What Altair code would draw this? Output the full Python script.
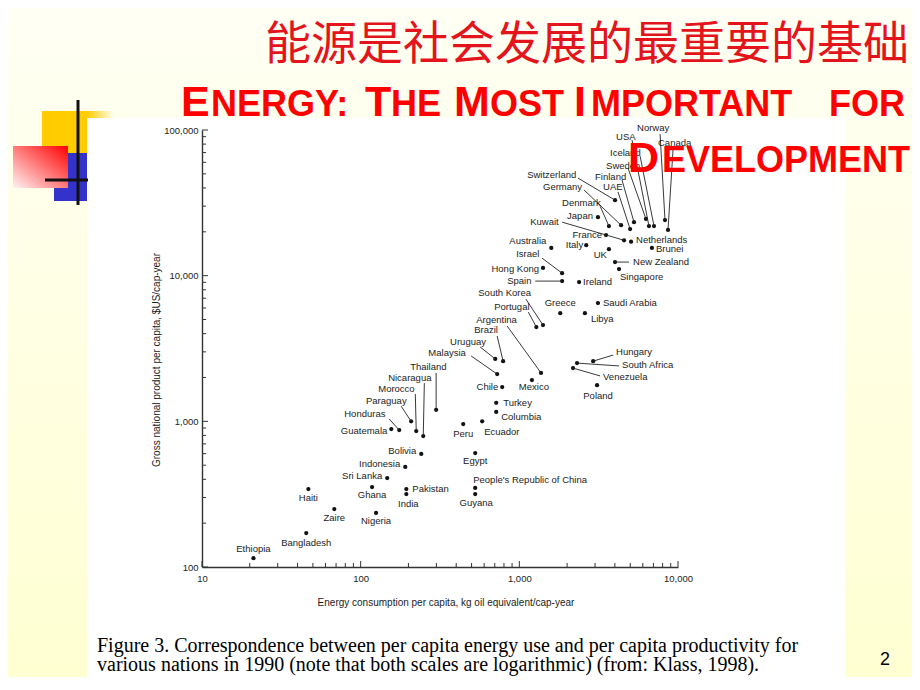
import altair as alt
import pandas as pd

# ---------------- data ----------------
countries = ["Canada", "Norway", "USA", "Iceland", "Sweden", "Finland", "UAE", "Germany",
             "Switzerland", "Denmark", "Japan", "Kuwait", "Netherlands", "France", "Brunei",
             "Australia", "Italy", "UK", "New Zealand", "Singapore", "Israel", "Hong Kong",
             "Spain", "Ireland", "Saudi Arabia", "Greece", "Libya", "Portugal", "South Korea",
             "Argentina", "Brazil", "Uruguay", "Malaysia", "Chile", "Mexico", "Hungary",
             "South Africa", "Venezuela", "Poland", "Turkey", "Columbia", "Ecuador", "Peru",
             "Thailand", "Nicaragua", "Morocco", "Paraguay", "Honduras", "Guatemala", "Bolivia",
             "Egypt", "Indonesia", "Sri Lanka", "Haiti", "Ghana", "Pakistan", "India",
             "People's Republic of China", "Guyana", "Zaire", "Nigeria", "Bangladesh", "Ethiopia"]

energy = [8650, 8280, 6560, 7060, 6280, 5280, 4990, 4380, 4010, 3670, 3130, 4570, 5060, 3520,
          6850, 1590, 2640, 3670, 4010, 4250, 1860, 1410, 1860, 2380, 3130, 1810, 2590, 1280,
          1410, 1370, 790, 705, 725, 780, 1200, 2920, 2310, 2180, 3090, 715, 715, 583, 443,
          299, 248, 224, 208, 175, 156, 241, 527, 191, 147, 46.8, 118, 194, 194, 527, 527,
          68.2, 125, 45.4, 21.1]

gnp = [20600, 24100, 21900, 21900, 24500, 23300, 20900, 22200, 33000, 21900, 25200, 17500,
       17100, 19000, 15500, 15500, 16200, 15200, 12400, 11100, 10400, 11300, 9180, 9040, 6490,
       5530, 5530, 4440, 4580, 2150, 2590, 2680, 2110, 1720, 1920, 2590, 2510, 2320, 1770,
       1340, 1160, 1000, 957, 1200, 793, 858, 1000, 871, 885, 597, 605, 486, 408, 343, 354,
       343, 317, 349, 317, 250, 235, 171, 115]

# labels joined to their points by leader lines (label anchor and line end, data units)
lead_names = ["Norway", "USA", "Canada", "Iceland", "Sweden", "Finland", "UAE", "Switzerland",
              "Germany", "Denmark", "Kuwait", "Israel", "Spain", "South Korea", "Portugal",
              "Argentina", "Brazil", "Uruguay", "Malaysia", "Thailand", "Nicaragua", "Morocco",
              "Paraguay", "Honduras", "Hungary", "South Africa", "Venezuela", "New Zealand"]
lead_tx = [5520, 4070, 7480, 3730, 3520, 3000, 3370, 1120, 1410, 1860, 1170, 955, 838, 551,
           694, 535, 519, 366, 267, 205, 149, 129, 108, 78.8, 4070, 4440, 3370, 5210]
lead_ty = [103000, 89400, 81300, 69400, 56500, 47500, 40500, 49000, 40500, 31500, 23300,
           14100, 9180, 7600, 6090, 4960, 4240, 3500, 2940, 2360, 1980, 1670, 1380, 1120,
           2990, 2430, 2010, 12400]
lead_ex = [7710, 5130, 9310, 5770, 4840, 4440, 4190, 2340, 2560, 3230, 1860, 1390, 1260, 1100,
           1140, 838, 725, 566, 497, 299, 252, 221, 180, 151, 3900, 4250, 3230, 4910]
lead_ey = [93700, 85300, 73900, 66200, 54800, 45300, 37500, 46800, 38700, 30000, 23300, 13200,
           9180, 6900, 5620, 4510, 3850, 3240, 2810, 2150, 1830, 1540, 1270, 1040, 2850, 2400,
           2050, 12400]

# axis ticks
x_major = [10, 100, 1000, 10000]
y_major = [100, 1000, 10000, 100000]
x_minor = [20, 30, 40, 50, 60, 70, 80, 90, 200, 300, 400, 500, 600, 700, 800, 900,
           2000, 3000, 4000, 5000, 6000, 7000, 8000, 9000]
y_minor = [200, 300, 400, 500, 600, 700, 800, 900, 2000, 3000, 4000, 5000, 6000, 7000, 8000,
           9000, 20000, 30000, 40000, 50000, 60000, 70000, 80000, 90000]

# ---------------- styles (label placement next to dot: align, dx, dy in px) ----------------
direct_style = {
    "Japan": ("right", -5, -1), "France": ("right", -4, 0), "Netherlands": ("left", 5, -2),
    "Brunei": ("left", 4, 1), "Australia": ("right", -5, -7), "Italy": ("right", -3, 0),
    "UK": ("right", -2, 6), "Hong Kong": ("right", -4, 1), "Singapore": ("left", 1, 8),
    "Ireland": ("left", 4, 0), "Saudi Arabia": ("left", 5, 0), "Greece": ("center", 0, -10),
    "Libya": ("left", 6, 6), "Chile": ("right", -4, 0), "Mexico": ("center", 2, 7),
    "Poland": ("center", 1, 11), "Turkey": ("left", 7, 0), "Columbia": ("left", 5, 5),
    "Ecuador": ("left", 2, 11), "Peru": ("center", 0, 10), "Guatemala": ("right", -4, 2),
    "Egypt": ("center", 0, 8), "Bolivia": ("right", -5, -3), "Indonesia": ("right", -5, -3),
    "Sri Lanka": ("right", -5, -2), "People's Republic of China": ("left", -2, -8),
    "Pakistan": ("left", 6, 0), "India": ("center", 2, 10), "Guyana": ("center", 1, 9),
    "Haiti": ("center", 0, 9), "Ghana": ("center", 0, 8), "Zaire": ("center", 0, 9),
    "Nigeria": ("center", 0, 8), "Bangladesh": ("center", 0, 10), "Ethiopia": ("center", 0, -9),
}

SANS = "Liberation Sans, Arial, Helvetica, sans-serif"
SERIF = "Liberation Serif, Times New Roman, serif"
INK = "#1c1c1c"
W, H = 476, 437

pts = pd.DataFrame({"name": countries, "energy": energy, "gnp": gnp})
lead = pd.DataFrame({"name": lead_names, "tx": lead_tx, "ty": lead_ty,
                     "ex": lead_ex, "ey": lead_ey}).merge(pts, on="name")

xs = alt.Scale(type="log", domain=[10, 10000], nice=False)
ys = alt.Scale(type="log", domain=[100, 100000], nice=False)
xa = alt.Axis(values=x_major, format=",", title=None, grid=False, ticks=False, labelFont=SANS,
              labelFontSize=9.5, labelColor=INK, labelPadding=6, labelOverlap=False,
              labelFlush=False, domainColor="#333333", domainWidth=1.4, zindex=1)
ya = alt.Axis(values=y_major, format=",", title=None, grid=False, ticks=False, labelFont=SANS,
              labelFontSize=9.5, labelColor=INK, labelPadding=4, labelOverlap=False,
              labelFlush=False, domainColor="#333333", domainWidth=1.4, zindex=1)


def X(field):
    return alt.X(field, scale=xs, axis=xa)


def Y(field):
    return alt.Y(field, scale=ys, axis=ya)


dummy = pd.DataFrame({"k": [0]})


def box(x, x2, y, y2, **kw):
    return alt.Chart(dummy).mark_rect(**kw).encode(
        x=alt.value(x), x2=alt.value(x2), y=alt.value(y), y2=alt.value(y2))


def txt(text, x, y, size, **kw):
    return alt.Chart(dummy).mark_text(text=text, fontSize=size, **kw).encode(
        x=alt.value(x), y=alt.value(y))


def line(x, x2, y, y2, **kw):
    return alt.Chart(dummy).mark_rule(**kw).encode(
        x=alt.value(x), x2=alt.value(x2), y=alt.value(y), y2=alt.value(y2))


layers = []

# slide background
layers.append(box(-194, 710, -122, 548, fill=alt.Gradient(
    gradient="linear", x1=0, x2=0, y1=0, y2=1,
    stops=[alt.GradientStop(color="#FFFFF4", offset=0),
           alt.GradientStop(color="#FFFFD2", offset=1)])))
# white figure panel
layers.append(box(-115, 643, -12, 548, fill="#FFFFFF"))

# decorations at left
layers.append(box(-160, -115, -19, 23, fill="#FFCC00"))
layers.append(box(-115, -88, -19, -12, fill=alt.Gradient(
    gradient="linear", x1=0, x2=1, y1=0, y2=0,
    stops=[alt.GradientStop(color="#FFCC00", offset=0),
           alt.GradientStop(color="#FFFFF4", offset=1)])))
layers.append(box(-148, -115, 23, 71, fill="#3333CC"))
layers.append(box(-189, -134, 16, 58, fill=alt.Gradient(
    gradient="linear", x1=0, x2=1, y1=1, y2=0,
    stops=[alt.GradientStop(color="#FFF4F4", offset=0),
           alt.GradientStop(color="#FF0000", offset=1)])))
layers.append(line(-124, -124, -30, 75, color="#111111", strokeWidth=3))
layers.append(line(-157, -114, 50, 50, color="#111111", strokeWidth=3))

# points with axes
layers.append(alt.Chart(pts).mark_circle(size=18, color="#111111", opacity=1).encode(
    x=X("energy:Q"), y=Y("gnp:Q")))

# inward ticks
for vals, enc, length in [(y_minor, "y", 4), (y_major, "y", 6), (x_minor, "x", 4), (x_major, "x", 6)]:
    c = alt.Chart(pd.DataFrame({"v": vals})).mark_rule(color="#333333", strokeWidth=1)
    if enc == "y":
        layers.append(c.encode(y=Y("v:Q"), x=alt.value(0), x2=alt.value(length)))
    else:
        layers.append(c.encode(x=X("v:Q"), y=alt.value(H), y2=alt.value(H - length)))

# leader lines and their labels
layers.append(alt.Chart(lead).mark_rule(color="#222222", strokeWidth=0.9).encode(
    x=X("energy:Q"), y=Y("gnp:Q"), x2="ex:Q", y2="ey:Q"))
layers.append(alt.Chart(lead).mark_text(align="left", baseline="middle", font=SANS,
                                        fontSize=9.5, color=INK).encode(
    x=X("tx:Q"), y=Y("ty:Q"), text="name:N"))

# labels next to their dots, grouped by placement style
groups = {}
for n, st in direct_style.items():
    groups.setdefault(st, []).append(n)
for (a, dx, dy), names in groups.items():
    sub = pts[pts["name"].isin(names)]
    layers.append(alt.Chart(sub).mark_text(align=a, baseline="middle", dx=dx, dy=dy, font=SANS,
                                           fontSize=9.5, color=INK).encode(
        x=X("energy:Q"), y=Y("gnp:Q"), text="name:N"))

# axis titles
layers.append(txt("Energy consumption per capita, kg oil equivalent/cap-year", 244, 473, 10,
                  font=SANS, color=INK, align="center", baseline="middle"))
layers.append(txt("Gross national product per capita, $US/cap-year", -45, 230, 10,
                  font=SANS, color=INK, align="center", baseline="middle", angle=270))

# caption
layers.append(txt("Figure 3. Correspondence between per capita energy use and per capita productivity for",
                  -105, 522, 20, font=SERIF, color="#000000", align="left", baseline="alphabetic"))
layers.append(txt("various nations in 1990 (note that both scales are logarithmic) (from: Klass, 1998).",
                  -105, 541, 20, font=SERIF, color="#000000", align="left", baseline="alphabetic"))
layers.append(txt("2", 683, 530, 18, font=SANS, color="#000000", align="center", baseline="middle"))

# slide titles
layers.append(txt("能源是社会发展的最重要的基础", 707, -71, 46, font="Noto Sans CJK SC",
                  color="#E3141B", align="right", baseline="alphabetic"))
RED = "#FF0000"
BIG, SMALL = 43, 36
runs = [("E", -21, BIG), ("NERGY:", 9, SMALL), ("T", 163, BIG), ("HE", 189, SMALL),
        ("M", 252, BIG), ("OST", 288, SMALL), ("I", 372, BIG), ("MPORTANT", 389, SMALL)]
for t, x, s in runs:
    layers.append(txt(t, x, -14, s, font=SANS, fontWeight="bold", color=RED,
                      align="left", baseline="alphabetic"))
layers.append(txt("FOR", 665, -14, SMALL, font=SANS, fontWeight="bold", color=RED,
                  align="center", baseline="alphabetic"))
layers.append(txt("D", 426, 42, BIG, font=SANS, fontWeight="bold", color=RED,
                  align="left", baseline="alphabetic"))
layers.append(txt("EVELOPMENT", 460, 42, SMALL, font=SANS, fontWeight="bold", color=RED,
                  align="left", baseline="alphabetic"))

chart = alt.layer(*layers).properties(
    width=W, height=H,
    padding={"left": 194, "top": 122, "right": 234, "bottom": 110},
    autosize=alt.AutoSizeParams(type="none"),
).configure_view(stroke=None).configure(background="#FFFFF4")

chart.save("out.html", embed_options={"renderer": "svg", "actions": False})
